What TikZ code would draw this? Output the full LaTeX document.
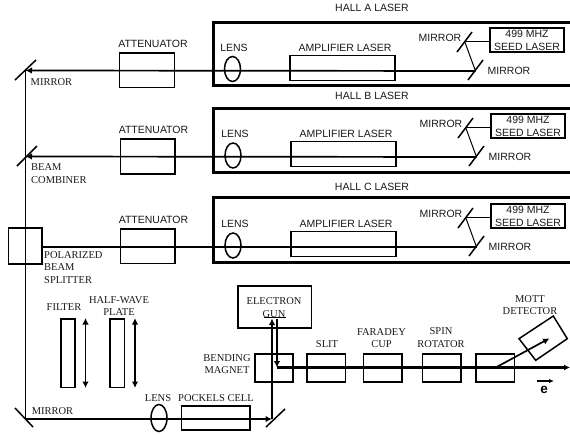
\documentclass[tikz,border=0pt]{standalone}
\usepackage{fontspec}
\setmainfont{Liberation Serif}
\setsansfont{Liberation Sans}
\usetikzlibrary{arrows.meta,shapes.geometric}
\tikzset{
  x=1pt,y=-1pt,
  sanslbl/.style={font=\sffamily\fontsize{10.5}{13}\selectfont,inner sep=0pt,align=center,text=black!90},
  seriflbl/.style={font=\rmfamily\fontsize{10.5}{12.8}\selectfont,inner sep=0pt,align=center,text=black!90},
  seriflft/.style={seriflbl,align=left,anchor=north west},
  hallbox/.style={draw,line width=3pt,inner sep=0pt,outer sep=0pt},
  comp/.style={draw,line width=1.4pt,inner sep=0pt,outer sep=0pt},
  thickcomp/.style={draw,line width=1.7pt,inner sep=0pt,outer sep=0pt},
  lensshape/.style={draw,ellipse,line width=1.5pt,inner sep=0pt,outer sep=0pt,minimum width=16pt,minimum height=25pt},
  beam/.style={draw,line width=1.7pt},
  ebeam/.style={draw,line width=2.4pt},
  thinbeam/.style={draw,line width=1pt},
  mirrorline/.style={draw,line width=1.5pt},
  tipped/.style={-{Latex[length=6.5pt,width=6.5pt]}},
  bothtips/.style={{Latex[length=6.5pt,width=6.5pt]}-{Latex[length=6.5pt,width=6.5pt]}},
}
% name, style, x1, y1, x2, y2
\newcommand{\pxbox}[6]{%
  \node[#2,minimum width={(#5)-(#3)},minimum height={(#6)-(#4)}] (#1) at ({((#3)+(#5))/2},{((#4)+(#6))/2}) {};
}
% tag, beam y, x offset
\newcommand{\laser}[3]{%
  \pgfmathsetmacro{\yb}{#2}
  \pgfmathsetmacro{\xo}{#3}
  \pxbox{amp#1}{comp}{290+\xo}{\yb-15.5}{395+\xo}{\yb+9.5}
  \pxbox{seed#1}{thickcomp}{490+\xo}{\yb-43}{564+\xo}{\yb-19}
  \coordinate (mb#1) at (475.5+\xo,\yb);
  \coordinate (mt#1) at (464.5+\xo,\yb-30);
  \draw[mirrorline] (468+\xo,\yb+9) -- (483+\xo,\yb-11);
  \draw[mirrorline] (457+\xo,\yb-19) -- (472+\xo,\yb-39);
  \draw[thinbeam] (mt#1) -- (seed#1.west |- mt#1);
  \draw[thinbeam] (mt#1) -- (mb#1);
  \node[sanslbl] (ampl#1) at (345+\xo,\yb-23) {AMPLIFIER LASER};
  \node[sanslbl] (mlt#1) at (440+\xo,\yb-33) {MIRROR};
  \node[sanslbl] (mlb#1) at (509+\xo,\yb) {MIRROR};
  \node[sanslbl] (seedl#1) at (527+\xo,\yb-30.5) {499 MHZ\\SEED LASER};
}
\begin{document}
\begin{tikzpicture}
\useasboundingbox (0,0) rectangle (570,434);
\begin{scope}
\clip (0,0) rectangle (570,434);
\pxbox{hallA}{hallbox}{213}{22}{600}{85}
\pxbox{hallB}{hallbox}{213.5}{108}{600}{172}
\pxbox{hallC}{hallbox}{213.5}{197}{600}{262}
\laser{A}{71}{0}
\laser{B}{157}{1}
\laser{C}{247}{1}
% electron line
\pxbox{bend}{thickcomp}{255}{354}{293}{382}
\pxbox{slit}{thickcomp}{307}{354}{345.5}{382}
\pxbox{faraday}{thickcomp}{363.5}{354}{402}{382}
\pxbox{spin}{thickcomp}{422.5}{354}{461}{382}
\pxbox{last}{thickcomp}{476}{354}{514.5}{382}
\coordinate (eturn) at (277,367.5);
\coordinate (eend) at (570,367.5);
\draw[ebeam,-{Latex[length=6pt,width=6pt]}] (eturn) -- (eend);
\end{scope}
\node[sanslbl] (ha) at (372,7.5) {HALL A LASER};
\node[sanslbl] (hb) at (372,96) {HALL B LASER};
\node[sanslbl] (hc) at (372,187) {HALL C LASER};
% attenuators
\pxbox{attA}{comp}{119.5}{53}{174.5}{87.5}
\pxbox{attB}{comp}{120.5}{139}{175}{174}
\pxbox{attC}{comp}{120.5}{229}{175}{263.5}
\node[sanslbl] (attlA) at (153,44) {ATTENUATOR};
\node[sanslbl] (attlB) at (153.5,130) {ATTENUATOR};
\node[sanslbl] (attlC) at (153.5,220) {ATTENUATOR};
% lenses
\node[lensshape] (lensA) at (232.5,69) {};
\node[lensshape] (lensB) at (233,155.5) {};
\node[lensshape] (lensC) at (233,245.5) {};
\node[sanslbl] (lenslA) at (234,48) {LENS};
\node[sanslbl] (lenslB) at (235,134) {LENS};
\node[sanslbl] (lenslC) at (235,224) {LENS};
% splitter and mirrors
\pxbox{split}{thickcomp}{8.5}{228}{42}{264}
\coordinate (mirA) at (25.5,70.5);
\coordinate (combB) at (25.5,156.5);
\coordinate (mirD) at (25.5,419);
\coordinate (mirE) at (272,419);
\draw[mirrorline] (15,80) -- (36,60);
\draw[mirrorline] (17,166) -- (37,146);
\draw[mirrorline] (15,408) -- (33,427);
\draw[mirrorline] (266,427) -- (285,409);
% laser beams
\draw[beam,tipped] (mbA) -- (mirA);
\draw[beam,tipped] (mbB) -- (combB);
\draw[beam] (mbC) -- (split.east |- mbC);
\draw[beam] (mirA) -- (mirD);
\draw[beam,tipped] (mirD) -- (mirE);
% filter, plate
\pxbox{filter}{comp}{61}{319}{75}{387.5}
\pxbox{plate}{comp}{110}{319}{124.5}{387.5}
\coordinate (fa) at (85.5,318);
\coordinate (fb) at (85.5,388);
\coordinate (pa) at (135,318);
\coordinate (pb) at (135,388);
\draw[beam,bothtips] (fa) -- (fb);
\draw[beam,bothtips] (pa) -- (pb);
% lens and pockels
\node[lensshape,minimum height=27pt] (lensD) at (159,418) {};
\pxbox{pockels}{comp}{181.5}{406}{250}{430}
% gun
\pxbox{gun}{comp}{238}{286}{311.5}{328}
\coordinate (cathA) at (264,317.7);
\coordinate (cathB) at (286,317.7);
\draw[line width=1.2pt] (cathA) -- (cathB);
\coordinate (gunin) at (272,318.5);
\coordinate (gunout) at (277,318.5);
\draw[beam,tipped] (mirE) -- (gunin);
\draw[beam,tipped] (gunout) -- (eturn);
% mott
\coordinate (m1) at (519,338.7);
\coordinate (m2) at (553.3,316);
\coordinate (m3) at (567.3,338.7);
\coordinate (m4) at (535.7,360.3);
\draw[line width=1.5pt] (m1) -- (m2) -- (m3) -- (m4) -- cycle;
\coordinate (ms) at (496.7,367);
\coordinate (me) at (549.5,338.3);
\draw[beam,tipped] (ms) -- (me);
% e
\coordinate (ea) at (536.5,381);
\coordinate (eb) at (554,381);
\draw[line width=1.1pt,-{Latex[length=5pt,width=4.5pt]}] (ea) -- (eb);
\node[inner sep=0pt,font=\sffamily\bfseries\fontsize{13.5}{13.5}\selectfont] (elbl) at (544,390) {e};
% serif labels
\node[seriflft] (l1) at (30.5,78) {MIRROR};
\node[seriflft] (l2) at (31,163.5) {BEAM\\COMBINER};
\node[seriflft] (l3) at (44,251) {POLARIZED\\BEAM\\SPLITTER};
\node[seriflbl] (l4) at (64,307.5) {FILTER};
\node[seriflbl] (l5) at (119,306) {HALF-WAVE\\PLATE};
\node[seriflbl] (l6) at (52.5,411) {MIRROR};
\node[seriflbl] (l7) at (158,398.5) {LENS};
\node[seriflbl] (l8) at (216,398.5) {POCKELS CELL};
\node[seriflbl] (l9) at (274,307.5) {ELECTRON\\GUN};
\node[seriflbl] (l10) at (227,364) {BENDING\\MAGNET};
\node[seriflbl] (l11) at (327,344.5) {SLIT};
\node[seriflbl] (l12) at (381.5,338) {FARADEY\\CUP};
\node[seriflbl] (l13) at (441,337.5) {SPIN\\ROTATOR};
\node[seriflbl] (l14) at (530,305) {MOTT\\DETECTOR};
\end{tikzpicture}
\end{document}
